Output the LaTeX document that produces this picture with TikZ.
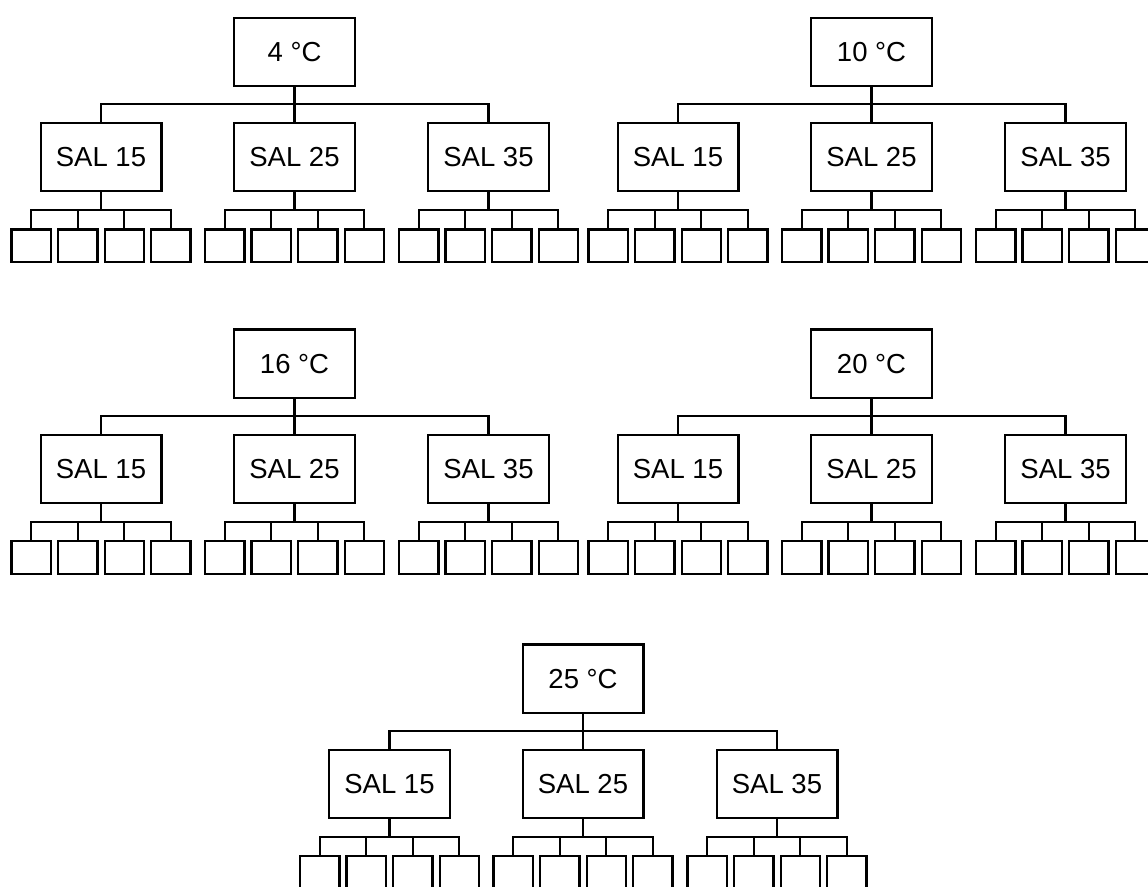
\documentclass[tikz,border=0pt]{standalone}
\usepackage{fontspec}
\setmainfont{Liberation Sans}
\usepackage{tikz}
\usetikzlibrary{
  positioning,
  calc
}

\begin{document}
\begin{tikzpicture}[x={(1pt,0pt)}, y={(0pt,-1pt)}, line width=2.2pt,
  every node/.style={align=center, font=\fontsize{27.5}{32}\selectfont},
  tempbox/.style={draw, rectangle, inner sep=0pt, minimum width=120.8pt, minimum height=68.3pt},
  salbox/.style={draw, rectangle, inner sep=0pt, minimum width=120.8pt, minimum height=68.3pt},
  cellbox/.style={draw, rectangle, inner sep=0pt, minimum width=39.4pt, minimum height=32.8pt}]
  \useasboundingbox (0,0) rectangle (1148,886);
  \clip (0,0) rectangle (1148,886);
  \foreach \g/\gx/\gy/\glabel in {t4/294.5/16.7/4 °C, t10/871.5/16.7/10 °C,
      t16/294.5/328.3/16 °C, t20/871.5/328.3/20 °C, t25/583/643.3/25 °C}{
    \node[tempbox] (\g) at (\gx,\gy+35.3) {\glabel};
    \coordinate (\g-bus) at (\gx,\gy+87.3);
    \draw (\g) -- (\g-bus);
    \foreach \s/\sx in {15/-193.5, 25/0, 35/194}{
      \node[salbox] (\g-\s) at (\gx+\sx,\gy+140.5) {SAL \s};
      \draw (\g-bus) -| (\g-\s);
      \coordinate (\g-\s-bus) at (\gx+\sx,\gy+193.3);
      \draw (\g-\s) -- (\g-\s-bus);
      \foreach \c/\cx in {1/-69.8, 2/-23.3, 3/23.3, 4/69.8}{
        \node[cellbox] (\g-\s-\c) at (\gx+\sx+\cx,\gy+229.1) {};
        \draw (\g-\s-bus) -| (\g-\s-\c);
      }
    }
  }
\end{tikzpicture}
\end{document}
